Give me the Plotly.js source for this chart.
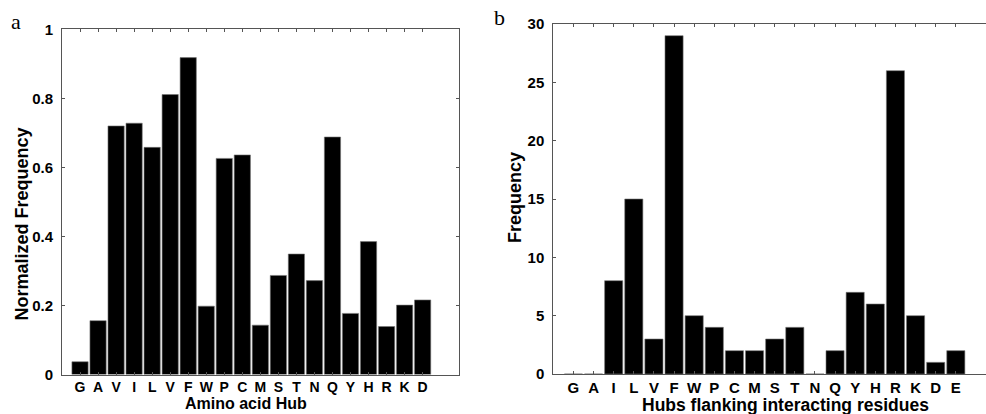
<!DOCTYPE html>
<html>
<head>
<meta charset="utf-8">
<script src="https://cdn.plot.ly/plotly-3.0.1.min.js"></script>
<style>html,body{margin:0;padding:0;background:#fff;}#chart{width:986px;height:414px;}</style>
</head>
<body>
<div id="chart"></div>
<script>
const leftLabels = ['G','A','V','I','L','V','F','W','P','C','M','S','T','N','Q','Y','H','R','K','D'];
const leftValues = [0.037,0.156,0.720,0.728,0.658,0.811,0.918,0.198,0.626,0.636,0.143,0.287,0.349,0.272,0.688,0.177,0.385,0.139,0.201,0.216];
const rightLabels = ['G','A','I','L','V','F','W','P','C','M','S','T','N','Q','Y','H','R','K','D','E'];
const rightValues = [0,0,8,15,3,29,5,4,2,2,3,4,0,2,7,6,26,5,1,2];
const leftYTicks = [0,0.2,0.4,0.6,0.8,1];
const rightYTicks = [0,5,10,15,20,25,30];

const W = 986, H = 414;
const px = v => v / W;
const py = v => (H - v) / H;
const leftPos = leftLabels.map((_, i) => i + 1);
const rightPos = rightLabels.map((_, i) => i + 1);

const FONT = 'Liberation Sans, Arial, sans-serif';
const AX = '#555';

const barStyle = {color: '#000', line: {color: '#777', width: 0.6}};
const traces = [
  {type: 'bar', x: leftPos, y: leftValues, width: 0.9, marker: barStyle, xaxis: 'x', yaxis: 'y', hoverinfo: 'x+y'},
  {type: 'bar', x: rightPos, y: rightValues, width: 0.9, marker: barStyle, xaxis: 'x2', yaxis: 'y2', hoverinfo: 'x+y'}
];

function xAxis(domain, range, pos, labels, size) {
  return {
    domain: domain, range: range, tickmode: 'array', tickvals: pos, ticktext: labels,
    showline: true, linecolor: AX, linewidth: 1, mirror: 'ticks', ticks: 'inside', ticklen: 3,
    tickcolor: AX, showgrid: false, zeroline: false, ticklabelstandoff: 0,
    tickfont: {family: FONT, size: size, color: '#000', weight: 'bold'}, fixedrange: true
  };
}
function yAxis(domain, range, tickvals, mirror, anchor) {
  return {
    domain: domain, range: range, tickmode: 'array', tickvals: tickvals,
    showline: true, linecolor: AX, linewidth: 1, mirror: mirror, ticks: 'inside', ticklen: 3,
    tickcolor: AX, showgrid: false, zeroline: false, anchor: anchor, ticklabelstandoff: 5,
    tickfont: {family: FONT, size: 15, color: '#000', weight: 'bold'}, fixedrange: true
  };
}

const layout = {
  width: W, height: H, margin: {l: 0, r: 0, t: 0, b: 0},
  paper_bgcolor: '#fff', plot_bgcolor: '#fff', showlegend: false, bargap: 0,
  xaxis: Object.assign(xAxis([px(62), px(458.7)], [0, 22], leftPos, leftLabels, 14), {anchor: 'y'}),
  yaxis: yAxis([py(374.5), py(29.3)], [0, 1], leftYTicks, 'ticks', 'x'),
  xaxis2: Object.assign(xAxis([px(553.3), 1], [0, 21.5], rightPos, rightLabels, 15), {anchor: 'y2'}),
  yaxis2: yAxis([py(374), py(24)], [0, 30], rightYTicks, false, 'x2'),
  annotations: [
    {text: 'a', x: px(16), y: py(21), xref: 'paper', yref: 'paper', xanchor: 'center', yanchor: 'middle', showarrow: false,
     font: {family: 'Liberation Serif, Times New Roman, serif', size: 22, color: '#000'}},
    {text: 'b', x: px(499), y: py(18), xref: 'paper', yref: 'paper', xanchor: 'center', yanchor: 'middle', showarrow: false,
     font: {family: 'Liberation Serif, Times New Roman, serif', size: 22, color: '#000'}},
    {text: 'Normalized Frequency', x: px(21.5), y: py(224), xref: 'paper', yref: 'paper', xanchor: 'center', yanchor: 'middle',
     textangle: -90, showarrow: false, font: {family: FONT, size: 18, color: '#000', weight: 'bold'}},
    {text: 'Amino acid Hub', x: px(246), y: py(403), xref: 'paper', yref: 'paper', xanchor: 'center', yanchor: 'middle',
     showarrow: false, font: {family: FONT, size: 16, color: '#000', weight: 'bold'}},
    {text: 'Frequency', x: px(515), y: py(198), xref: 'paper', yref: 'paper', xanchor: 'center', yanchor: 'middle',
     textangle: -90, showarrow: false, font: {family: FONT, size: 18, color: '#000', weight: 'bold'}},
    {text: 'Hubs flanking interacting residues', x: px(785), y: py(405), xref: 'paper', yref: 'paper', xanchor: 'center', yanchor: 'middle',
     showarrow: false, font: {family: FONT, size: 17.5, color: '#000', weight: 'bold'}}
  ]
};

Plotly.newPlot('chart', traces, layout, {staticPlot: true, displayModeBar: false});
</script>
</body>
</html>
